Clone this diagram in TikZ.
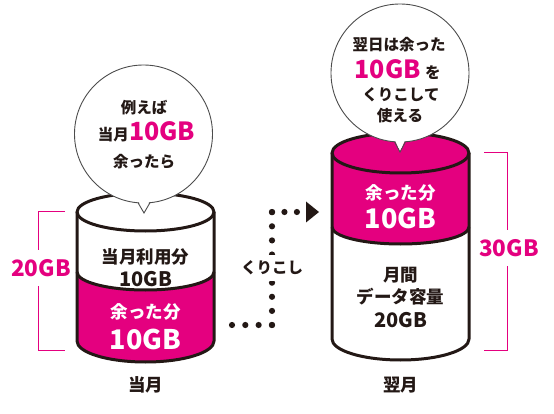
\documentclass[tikz,border=0pt]{standalone}
\usepackage{fontspec}
\setmainfont{Noto Sans CJK JP}
\definecolor{mag}{HTML}{E4007F}
\definecolor{ink}{HTML}{231815}
\begin{document}
\begin{tikzpicture}[x=1pt,y=-1pt,
  cyl/.style={line width=3pt, draw=ink, line join=round},
  bub/.style={fill=white, draw=black!70, line width=0.9pt},
  bubline/.style={draw=black!70, line width=0.9pt, line join=miter},
  jp/.style={font=\bfseries\fontsize{17.5pt}{20pt}\selectfont, text=ink, inner sep=0pt},
  jps/.style={font=\bfseries\fontsize{15.5pt}{18pt}\selectfont, text=ink, inner sep=0pt},
  gbm/.style={font=\bfseries\fontsize{20pt}{22pt}\selectfont, text=ink, inner sep=0pt},
  gbl/.style={font=\bfseries\fontsize{27pt}{30pt}\selectfont, text=white, inner sep=0pt},
  gbb/.style={font=\bfseries\fontsize{25pt}{28pt}\selectfont, text=mag, inner sep=0pt},
  brk/.style={draw=mag, line width=1pt},
  brklabel/.style={font=\bfseries\fontsize{22.5pt}{25pt}\selectfont, text=mag, fill=white, inner xsep=1pt, inner ysep=9pt},
  dots/.style={draw=ink, line width=6.2pt, line cap=round}
]
\useasboundingbox (0,0) rectangle (554,414);

% ---------- left cylinder ----------
\fill[mag] (77,272) arc[start angle=180,end angle=360,x radius=68.5pt,y radius=18pt]
  -- (214,341) arc[start angle=0,end angle=-180,x radius=68.5pt,y radius=21pt] -- cycle;
\draw[cyl] (145.5,212) ellipse[x radius=68.5pt, y radius=19pt];
\draw[cyl] (77,212) -- (77,341) arc[start angle=180,end angle=360,x radius=68.5pt,y radius=21pt] -- (214,212);
\draw[cyl] (77,272) arc[start angle=180,end angle=360,x radius=68.5pt,y radius=18pt];

% ---------- right cylinder ----------
\fill[mag] (332,153) arc[start angle=180,end angle=0,x radius=68.5pt,y radius=20pt]
  -- (469,227) arc[start angle=0,end angle=-180,x radius=68.5pt,y radius=17pt] -- cycle;
\draw[cyl] (400.5,153) ellipse[x radius=68.5pt, y radius=20pt];
\draw[cyl] (332,153) -- (332,339) arc[start angle=180,end angle=360,x radius=68.5pt,y radius=21pt] -- (469,153);
\draw[cyl] (332,227) arc[start angle=180,end angle=360,x radius=68.5pt,y radius=17pt];

% ---------- bubbles ----------
\draw[bub] (143.5,134) circle[radius=69pt];
\fill[white] (138,200) -- (144,213) -- (150,200) -- cycle;
\draw[bubline] (138,202.7) -- (144,213) -- (150,202.7);

\draw[bub] (400,73) circle[radius=69pt];
\fill[white] (394.5,139) -- (400,152) -- (405.5,139) -- cycle;
\draw[bubline] (394.5,141.7) -- (400,152) -- (405.5,141.7);

% ---------- left texts ----------
\node[jps] (lb1) at (144,108) {例えば};
\node[anchor=base east, jps] (lb2a) at (129,141) {当月};
\node[anchor=base west, gbb] (lb2b) at (lb2a.base east) {10GB};
\node[jps] (lb3) at (144,162) {余ったら};

\node[jp] (lu1) at (145.5,257) {当月利用分};
\node[gbm] (lu2) at (145.5,279) {10GB};
\node[jp, text=white] (lm1) at (145.5,312) {余った分};
\node[gbl] (lm2) at (145.5,339) {10GB};
\node[jp] (lname) at (145.5,385) {当月};

% ---------- right texts ----------
\node[jps] (rb1) at (399,45) {翌日は余った};
\node[anchor=base east, gbb] (rb2a) at (421,79) {10GB};
\node[anchor=base west, jps] (rb2b) at ([xshift=4pt]rb2a.base east) {を};
\node[jps] (rb3) at (401,95) {くりこして};
\node[jps] (rb4) at (400,116) {使える};

\node[jp, text=white] (rm1) at (400.5,193) {余った分};
\node[gbl] (rm2) at (400.5,218) {10GB};
\node[jp] (ru1) at (400.5,275) {月間};
\node[jp] (ru2) at (400.5,297) {データ容量};
\node[gbm] (ru3) at (400.5,320) {20GB};
\node[jp] (rname) at (400.5,385) {翌月};

% ---------- brackets ----------
\draw[brk] (65,212) -- (38,212) -- (38,350) -- (65,350);
\node[brklabel] (l20) at (41,268) {20GB};
\draw[brk] (484,153) -- (507,153) -- (507,350) -- (484,350);
\node[brklabel] (r30) at (509,248) {30GB};

% ---------- dotted connector ----------
\coordinate (d0) at (232,325);
\coordinate (d1) at (272,325);
\coordinate (d2) at (272,212);
\coordinate (d3) at (297,212);
\draw[dots, dash pattern=on 0pt off 13.32pt] (d0) -- (d1);
\draw[dots, dash pattern=on 0pt off 14.1pt] (d1) -- (d2);
\draw[dots, dash pattern=on 0pt off 12.45pt] (d2) -- (d3);
\fill[ink] (306,201.5) -- (319,212) -- (306,222.5) -- cycle;
\node[jps, fill=white, inner xsep=2pt, inner ysep=6pt] (kuri) at (272,268) {くりこし};
\end{tikzpicture}
\end{document}
